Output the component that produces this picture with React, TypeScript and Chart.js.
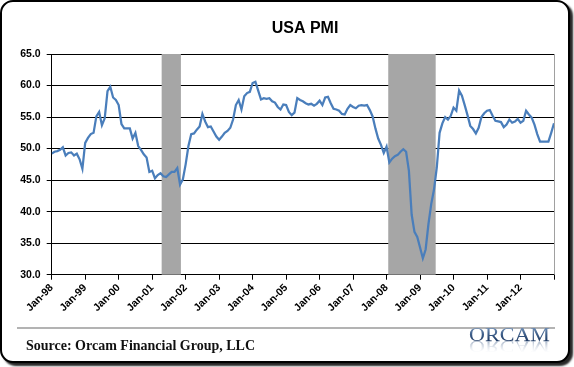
import React, { useEffect, useRef } from "react";
import { Chart, registerables } from "chart.js";

Chart.register(...registerables);

// Tick labels for the yearly x-axis ticks (month index 0, 12, 24, ...)
const tickLabels = [
  "Jan-98", "Jan-99", "Jan-00", "Jan-01", "Jan-02", "Jan-03", "Jan-04", "Jan-05",
  "Jan-06", "Jan-07", "Jan-08", "Jan-09", "Jan-10", "Jan-11", "Jan-12",
];

// Monthly USA PMI readings, Jan-98 onward
const pmi1998 = [49.2, 49.5, 49.6, 49.8, 50.2, 48.9, 49.3, 49.4, 48.9, 49.2, 48.3, 46.8];
const pmi1999 = [50.9, 51.7, 52.3, 52.5, 55.1, 55.8, 53.7, 54.8, 59.1, 59.8, 58.1, 57.7];
const pmi2000 = [56.9, 53.9, 53.2, 53.2, 53.2, 51.6, 52.5, 50.4, 49.8, 49.1, 48.6, 46.3];
const pmi2001 = [46.5, 45.3, 45.8, 46.1, 45.6, 45.5, 45.9, 46.3, 46.3, 46.9, 44.3, 45.1];
const pmi2002 = [47.5, 50.4, 52.3, 52.4, 53.0, 53.5, 55.5, 54.3, 53.4, 53.5, 52.7, 51.9];
const pmi2003 = [51.4, 51.9, 52.5, 52.8, 53.3, 54.6, 56.9, 57.7, 56.2, 58.3, 58.8, 59.0];
const pmi2004 = [60.4, 60.6, 59.2, 57.8, 58.0, 57.9, 58.0, 57.5, 57.3, 56.6, 56.2, 57.0];
const pmi2005 = [56.9, 55.8, 55.3, 55.7, 58.0, 57.7, 57.5, 57.2, 57.0, 57.1, 56.8, 57.1];
const pmi2006 = [57.6, 56.9, 58.1, 58.2, 57.2, 56.3, 56.2, 56.0, 55.5, 55.4, 56.3, 56.9];
const pmi2007 = [56.6, 56.4, 56.8, 56.9, 56.8, 56.9, 56.1, 55.1, 53.2, 51.6, 50.6, 49.3];
const pmi2008 = [50.3, 47.8, 48.4, 48.8, 49.0, 49.5, 49.9, 49.5, 46.5, 39.5, 36.8, 36.0];
const pmi2009 = [34.3, 32.6, 34.0, 38.0, 41.2, 43.5, 47.0, 52.5, 54.0, 55.0, 54.6, 55.2];
const pmi2010 = [56.5, 56.0, 59.2, 58.4, 56.9, 55.3, 53.6, 53.1, 52.4, 53.3, 55.0, 55.6];
const pmi2011 = [56.0, 56.1, 55.2, 54.4, 54.3, 54.2, 53.4, 53.8, 54.6, 54.1, 54.3, 54.7];
const pmi2012 = [54.1, 54.4, 56.0, 55.4, 54.9, 53.8, 52.3, 51.1, 51.1, 51.1, 51.1, 52.5];
const pmi2013 = [54.0];

const pmiValues = [
  ...pmi1998, ...pmi1999, ...pmi2000, ...pmi2001, ...pmi2002, ...pmi2003, ...pmi2004,
  ...pmi2005, ...pmi2006, ...pmi2007, ...pmi2008, ...pmi2009, ...pmi2010, ...pmi2011,
  ...pmi2012, ...pmi2013,
];

// Recession shading, in month index units from Jan-98
const recessionStart = [39.4, 120.6];
const recessionEnd = [46.3, 137.6];

const yTicks = [30, 35, 40, 45, 50, 55, 60, 65];

export default function App() {
  const canvasRef = useRef<HTMLCanvasElement | null>(null);

  useEffect(() => {
    const canvas = canvasRef.current;
    if (!canvas) return;

    const decorPlugin = {
      id: "decor",
      beforeDatasetsDraw(chart: any) {
        const { ctx, chartArea, scales } = chart;
        ctx.save();
        ctx.fillStyle = "#a6a6a6";
        for (let i = 0; i < recessionStart.length; i++) {
          const x0 = scales.x.getPixelForValue(recessionStart[i]);
          const x1 = scales.x.getPixelForValue(recessionEnd[i]);
          ctx.fillRect(x0, chartArea.top, x1 - x0, chartArea.bottom - chartArea.top);
        }
        // right border of plot
        ctx.strokeStyle = "#a0a0a0";
        ctx.lineWidth = 1;
        ctx.beginPath();
        ctx.moveTo(Math.round(chartArea.right) + 0.5, chartArea.top);
        ctx.lineTo(Math.round(chartArea.right) + 0.5, chartArea.bottom);
        ctx.stroke();
        ctx.restore();
      },
      afterDraw(chart: any) {
        const { ctx } = chart;
        ctx.save();
        // title
        ctx.fillStyle = "#000";
        ctx.font = 'bold 16px "Liberation Sans", Arial, sans-serif';
        ctx.textAlign = "center";
        ctx.textBaseline = "middle";
        ctx.fillText("USA PMI", 305, 29);

        // separator
        ctx.strokeStyle = "#9a9a9a";
        ctx.lineWidth = 1.5;
        ctx.beginPath();
        ctx.moveTo(17, 328);
        ctx.lineTo(555, 328);
        ctx.stroke();

        // source
        ctx.fillStyle = "#111";
        ctx.font = 'bold 14px "Liberation Serif", "Times New Roman", serif';
        ctx.textAlign = "left";
        ctx.textBaseline = "alphabetic";
        ctx.fillText("Source: Orcam Financial Group, LLC", 26, 350);

        // logo
        ctx.font = '19px "Liberation Serif", "Times New Roman", serif';
        const w = ctx.measureText("ORCAM").width;
        const sx = 81 / w;
        ctx.save();
        ctx.translate(469, 341);
        ctx.scale(sx, 1);
        const g = ctx.createLinearGradient(0, -13, 0, 0);
        g.addColorStop(0, "#6f8db3");
        g.addColorStop(0.5, "#3d5d88");
        g.addColorStop(1, "#1f3a63");
        ctx.fillStyle = g;
        ctx.fillText("ORCAM", 0, 0);
        ctx.restore();
        ctx.save();
        ctx.translate(469, 341);
        ctx.scale(sx, -0.85);
        const g2 = ctx.createLinearGradient(0, 0, 0, -13);
        g2.addColorStop(0, "rgba(90,115,150,0.55)");
        g2.addColorStop(1, "rgba(200,210,225,0.05)");
        ctx.fillStyle = g2;
        ctx.fillText("ORCAM", 0, 0);
        ctx.restore();
        ctx.restore();
      },
    };

    const chart = new Chart(canvas, {
      type: "line",
      data: {
        datasets: [
          {
            data: pmiValues.map((v, i) => ({ x: i, y: v })),
            borderColor: "#4a7ebb",
            borderWidth: 2.25,
            pointRadius: 0,
            tension: 0,
            fill: false,
          },
        ],
      },
      options: {
        responsive: false,
        animation: false,
        events: [],
        layout: { padding: { top: 54, right: 20, bottom: 0, left: 0 } },
        plugins: {
          legend: { display: false },
          title: { display: false },
          tooltip: { enabled: false },
        },
        scales: {
          x: {
            type: "linear",
            min: 0,
            max: 180,
            afterFit: (s: any) => {
              s.height = 92.3;
            },
            afterBuildTicks: (s: any) => {
              s.ticks = tickLabels.map((_, i) => ({ value: i * 12 })).concat([{ value: 180 }]);
            },
            ticks: {
              autoSkip: false,
              maxRotation: 45,
              minRotation: 45,
              padding: 2,
              color: "#000",
              font: { family: '"Liberation Sans", Arial, sans-serif', size: 10.5, weight: "bold" },
              callback: (v: any) => {
                const idx = Math.round(Number(v) / 12);
                return tickLabels[idx] ?? "";
              },
            },
            grid: {
              drawOnChartArea: false,
              drawTicks: true,
              tickLength: 5,
              color: "#000",
            },
            border: { color: "#000", width: 1 },
          },
          y: {
            min: 30,
            max: 65,
            afterFit: (s: any) => {
              s.width = 51.7;
            },
            afterBuildTicks: (s: any) => {
              s.ticks = yTicks.map((v) => ({ value: v }));
            },
            ticks: {
              padding: 6,
              color: "#000",
              font: { family: '"Liberation Sans", Arial, sans-serif', size: 10.5, weight: "bold" },
              callback: (v: any) => Number(v).toFixed(1),
            },
            grid: {
              color: "#000",
              lineWidth: 1,
              drawTicks: true,
              tickLength: 5,
            },
            border: { color: "#000", width: 1 },
          },
        },
      },
      plugins: [decorPlugin],
    });

    return () => chart.destroy();
  }, []);

  return (
    <div style={{ position: "fixed", left: 0, top: 0, width: 574, height: 367, background: "#fff" }}>
      <div
        style={{
          position: "absolute",
          left: 0,
          top: 0,
          width: 566,
          height: 359,
          border: "2px solid #000",
          borderRadius: 13,
          boxShadow: "3px 3px 2px rgba(0,0,0,0.85)",
          background: "#fff",
        }}
      />
      <canvas
        ref={canvasRef}
        width={574}
        height={367}
        style={{ position: "absolute", left: 0, top: 0, width: 574, height: 367 }}
      />
    </div>
  );
}
